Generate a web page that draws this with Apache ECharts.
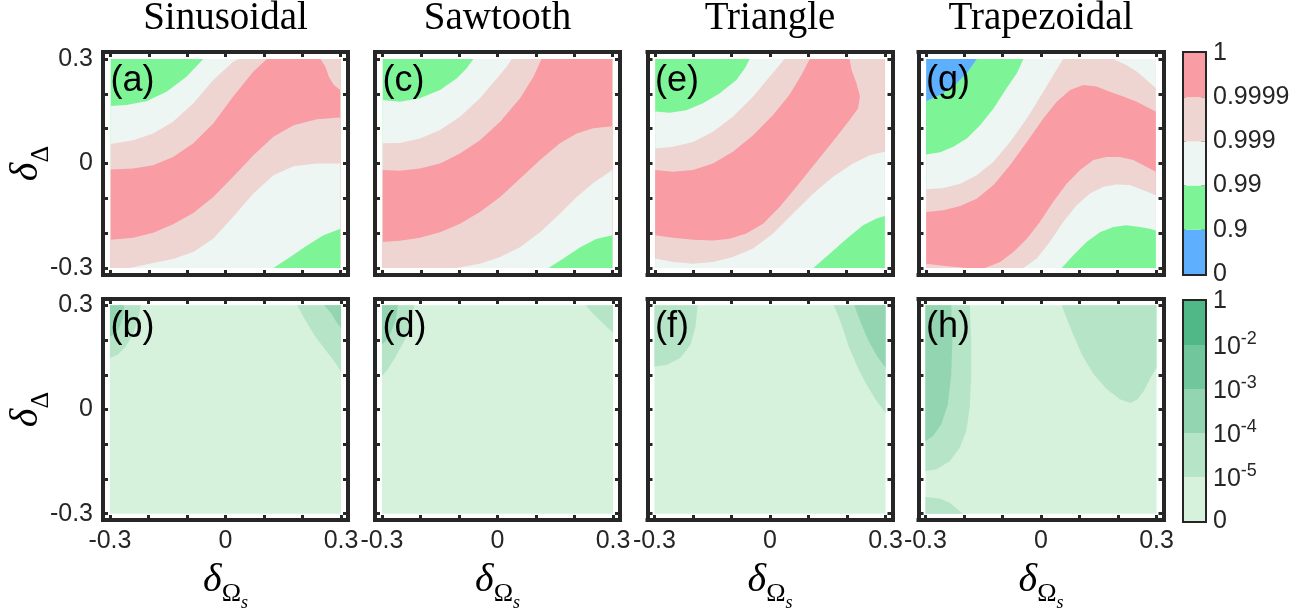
<!DOCTYPE html>
<html>
<head>
<meta charset="utf-8">
<script src="https://cdn.jsdelivr.net/npm/echarts@6/dist/echarts.min.js"></script>
<style>html,body{margin:0;padding:0;background:#fff;}#main{width:1314px;height:613px;}</style>
</head>
<body>
<div id="main"></div>
<script>
// ---------- axis ticks & labels ----------
const tickVals = [-0.3, -0.2, -0.1, 0, 0.1, 0.2, 0.3];
const tickLabelVals = [-0.3, 0, 0.3];
const tickLabelText = ['-0.3', '0', '0.3'];
const titles = ['Sinusoidal', 'Sawtooth', 'Triangle', 'Trapezoidal'];
const panelTags = ['(a)', '(c)', '(e)', '(g)', '(b)', '(d)', '(f)', '(h)'];

// ---------- colour levels ----------
const topLevelLabels = ['0', '0.9', '0.99', '0.999', '0.9999', '1'];
const topColors = ['#5EAFFE', '#7DF597', '#EEF6F4', '#EFD5D2', '#F99CA4'];
const botLevelBase = ['0', '10', '10', '10', '10', '1'];
const botLevelExp = ['', '-5', '-4', '-3', '-2', ''];
const botColors = ['#D6F2DD', '#B6E4C7', '#94D5B1', '#72C69B', '#50B787'];
const cbLevels = [0, 1, 2, 3, 4];

// ---------- contour boundaries (x, y) ----------
// (a) Sinusoidal
const a_c1 = [[-0.300,0.165],[-0.259,0.168],[-0.207,0.179],[-0.154,0.206],[-0.102,0.249],[-0.058,0.300]];
const a_c2 = [[-0.300,0.056],[-0.241,0.067],[-0.189,0.086],[-0.137,0.120],[-0.084,0.173],[-0.032,0.240],[0.020,0.292],[0.034,0.300]];
const a_c3 = [[-0.300,-0.017],[-0.241,-0.014],[-0.189,-0.005],[-0.137,0.019],[-0.084,0.058],[-0.032,0.115],[0.020,0.192],[0.073,0.264],[0.108,0.300]];
const a_cr = [[0.300,0.211],[0.283,0.225],[0.270,0.249],[0.261,0.278],[0.248,0.300]];
const a_c4 = [[-0.300,-0.219],[-0.241,-0.213],[-0.189,-0.199],[-0.137,-0.174],[-0.084,-0.142],[-0.032,-0.096],[0.020,-0.038],[0.073,0.024],[0.125,0.077],[0.178,0.110],[0.239,0.127],[0.300,0.132]];
const a_c5 = [[-0.250,-0.300],[-0.198,-0.288],[-0.137,-0.274],[-0.084,-0.254],[-0.032,-0.216],[0.020,-0.153],[0.073,-0.086],[0.125,-0.034],[0.178,-0.008],[0.239,0.000],[0.300,0.000]];
const a_c6 = [[0.125,-0.300],[0.169,-0.268],[0.213,-0.235],[0.256,-0.206],[0.300,-0.187]];
// (c) Sawtooth
const c_c1 = [[-0.300,0.182],[-0.255,0.177],[-0.203,0.187],[-0.150,0.211],[-0.107,0.244],[-0.081,0.273],[-0.063,0.300]];
const c_c2 = [[-0.300,0.058],[-0.255,0.059],[-0.203,0.072],[-0.150,0.096],[-0.098,0.134],[-0.046,0.187],[-0.002,0.244],[0.024,0.278],[0.037,0.300]];
const c_c3 = [[-0.300,-0.019],[-0.255,-0.021],[-0.203,-0.014],[-0.150,0.000],[-0.098,0.029],[-0.046,0.067],[0.007,0.120],[0.059,0.187],[0.094,0.249],[0.115,0.300]];
const c_c4 = [[-0.300,-0.225],[-0.255,-0.222],[-0.203,-0.213],[-0.150,-0.197],[-0.098,-0.173],[-0.046,-0.139],[0.007,-0.096],[0.059,-0.043],[0.111,0.010],[0.163,0.058],[0.207,0.086],[0.250,0.101],[0.300,0.107]];
const c_c5 = [[-0.107,-0.300],[-0.046,-0.288],[0.007,-0.268],[0.059,-0.240],[0.111,-0.197],[0.163,-0.144],[0.207,-0.096],[0.250,-0.056],[0.300,-0.019]];
const c_c6 = [[0.133,-0.300],[0.172,-0.273],[0.216,-0.240],[0.259,-0.216],[0.300,-0.206]];
// (e) Triangle
const e_c1 = [[-0.300,0.149],[-0.262,0.146],[-0.219,0.153],[-0.175,0.173],[-0.132,0.201],[-0.088,0.240],[-0.066,0.273],[-0.053,0.300]];
const e_c2 = [[-0.300,0.043],[-0.254,0.048],[-0.201,0.062],[-0.149,0.091],[-0.097,0.134],[-0.044,0.192],[-0.001,0.249],[0.025,0.283],[0.038,0.300]];
const e_c3 = [[-0.300,-0.019],[-0.254,-0.024],[-0.201,-0.019],[-0.149,0.000],[-0.097,0.034],[-0.044,0.081],[0.008,0.139],[0.051,0.197],[0.082,0.254],[0.104,0.300]];
const e_c4 = [[-0.300,-0.206],[-0.254,-0.213],[-0.201,-0.219],[-0.149,-0.221],[-0.106,-0.216],[-0.062,-0.201],[-0.018,-0.173],[0.025,-0.125],[0.069,-0.067],[0.104,-0.019],[0.139,0.029],[0.174,0.077],[0.208,0.125],[0.230,0.158],[0.235,0.192],[0.226,0.230],[0.213,0.268],[0.208,0.300]];
const e_c5 = [[-0.300,-0.273],[-0.254,-0.283],[-0.201,-0.288],[-0.149,-0.283],[-0.097,-0.268],[-0.044,-0.244],[0.008,-0.201],[0.060,-0.144],[0.113,-0.086],[0.165,-0.038],[0.217,0.000],[0.261,0.024],[0.300,0.034]];
const e_c6 = [[0.113,-0.300],[0.156,-0.259],[0.200,-0.216],[0.243,-0.177],[0.278,-0.158],[0.300,-0.151]];
// (g) Trapezoidal
const g_c0 = [[-0.300,0.179],[-0.263,0.197],[-0.229,0.221],[-0.194,0.259],[-0.168,0.300]];
const g_c1 = [[-0.300,0.026],[-0.263,0.032],[-0.229,0.048],[-0.194,0.072],[-0.159,0.110],[-0.124,0.158],[-0.090,0.216],[-0.063,0.259],[-0.046,0.300]];
const g_c2 = [[-0.300,-0.074],[-0.255,-0.070],[-0.211,-0.058],[-0.168,-0.034],[-0.124,0.005],[-0.081,0.062],[-0.037,0.129],[0.006,0.206],[0.032,0.254],[0.058,0.300]];
const g_cr = [[0.300,0.216],[0.276,0.240],[0.250,0.264],[0.223,0.283],[0.189,0.300]];
const g_c3 = [[-0.300,-0.139],[-0.255,-0.134],[-0.211,-0.122],[-0.168,-0.101],[-0.124,-0.062],[-0.081,-0.005],[-0.037,0.062],[0.006,0.129],[0.041,0.177],[0.076,0.211],[0.110,0.225],[0.145,0.221],[0.180,0.206],[0.215,0.192],[0.250,0.177],[0.284,0.158],[0.300,0.149]];
const g_c4 = [[-0.146,-0.300],[-0.107,-0.283],[-0.072,-0.254],[-0.037,-0.216],[-0.003,-0.168],[0.032,-0.110],[0.067,-0.058],[0.102,-0.019],[0.137,0.010],[0.171,0.019],[0.206,0.019],[0.241,0.010],[0.276,-0.010],[0.300,-0.024]];
const g_sl = [[-0.300,-0.288],[-0.250,-0.294],[-0.194,-0.300]];
const g_c5 = [[-0.046,-0.300],[-0.011,-0.273],[0.023,-0.225],[0.058,-0.168],[0.093,-0.120],[0.128,-0.086],[0.163,-0.067],[0.197,-0.060],[0.232,-0.062],[0.267,-0.077],[0.300,-0.091]];
const g_c6 = [[0.054,-0.300],[0.084,-0.264],[0.119,-0.225],[0.154,-0.197],[0.189,-0.182],[0.223,-0.177],[0.258,-0.182],[0.284,-0.187],[0.300,-0.192]];
// (b)
const b_tr1 = [[0.300,0.109],[0.283,0.138],[0.256,0.176],[0.230,0.215],[0.204,0.263],[0.186,0.300]];
const b_tr2 = [[0.300,0.234],[0.287,0.253],[0.274,0.277],[0.256,0.300]];
const b_tl1 = [[-0.220,0.300],[-0.228,0.253],[-0.241,0.215],[-0.259,0.181],[-0.281,0.157],[-0.300,0.148]];
const b_tl2 = [[-0.263,0.300],[-0.266,0.263],[-0.276,0.234],[-0.290,0.215],[-0.300,0.210]];
// (d)
const d_tl1 = [[-0.216,0.300],[-0.224,0.249],[-0.242,0.197],[-0.264,0.153],[-0.285,0.115],[-0.300,0.096]];
const d_tl2 = [[-0.259,0.300],[-0.264,0.259],[-0.277,0.221],[-0.290,0.197],[-0.300,0.187]];
const d_tr1 = [[0.300,0.221],[0.281,0.240],[0.259,0.264],[0.242,0.283],[0.229,0.300]];
// (f)
const f_tl1 = [[-0.188,0.300],[-0.193,0.240],[-0.206,0.187],[-0.232,0.149],[-0.267,0.129],[-0.300,0.123]];
const f_tr1 = [[0.300,-0.010],[0.274,0.029],[0.248,0.077],[0.226,0.125],[0.204,0.182],[0.187,0.240],[0.174,0.278],[0.165,0.300]];
const f_tr2 = [[0.300,0.120],[0.278,0.153],[0.256,0.197],[0.239,0.240],[0.226,0.278],[0.219,0.300]];
// (h)
const h_l1 = [[-0.185,0.300],[-0.181,0.197],[-0.181,0.101],[-0.185,0.005],[-0.194,-0.062],[-0.211,-0.110],[-0.237,-0.149],[-0.272,-0.173],[-0.300,-0.177]];
const h_l2 = [[-0.233,0.300],[-0.230,0.197],[-0.233,0.101],[-0.242,0.014],[-0.259,-0.043],[-0.281,-0.077],[-0.300,-0.091]];
const h_bl = [[-0.300,-0.252],[-0.263,-0.256],[-0.237,-0.268],[-0.216,-0.288],[-0.203,-0.300]];
const h_u = [[0.300,0.120],[0.284,0.091],[0.267,0.053],[0.250,0.029],[0.232,0.019],[0.206,0.029],[0.171,0.058],[0.137,0.101],[0.106,0.158],[0.080,0.225],[0.063,0.273],[0.054,0.300]];

// layer lists: [colour level, boundary] painted in order over a base level
const layersA = [[2,a_c1],[3,a_c2],[4,a_c3],[3,a_cr],[3,a_c4],[2,a_c5],[1,a_c6]];
const layersC = [[2,c_c1],[3,c_c2],[4,c_c3],[3,c_c4],[2,c_c5],[1,c_c6]];
const layersE = [[2,e_c1],[3,e_c2],[4,e_c3],[3,e_c4],[2,e_c5],[1,e_c6]];
const layersG = [[1,g_c0],[2,g_c1],[3,g_c2],[2,g_cr],[4,g_c3],[3,g_c4],[3,g_sl],[2,g_c5],[1,g_c6]];
const layersB = [[1,b_tr1],[2,b_tr2],[1,b_tl1],[2,b_tl2]];
const layersD = [[1,d_tl1],[2,d_tl2],[1,d_tr1]];
const layersF = [[1,f_tl1],[1,f_tr1],[2,f_tr2]];
const layersH = [[1,h_l1],[2,h_l2],[1,h_bl],[1,h_u]];
const panelLayers = [layersA, layersC, layersE, layersG, layersB, layersD, layersF, layersH];
const panelBase = [1, 1, 1, 0, 0, 0, 0, 0];

// ---------- layout ----------
const FR = '#262626';
const colCenters = [225.5, 497.5, 770, 1041];
const rowTop = [52, 299];
const rowH = [223, 221];
const rowLim = [0.32, 0.318];
const GW = 245;
const B = 0.3;
const LBL = 25;

function perim(p) {
  const x = p[0], y = p[1];
  const d = [Math.abs(y - B), Math.abs(x - B), Math.abs(y + B), Math.abs(x + B)];
  const m = Math.min.apply(null, d);
  if (m === d[0]) return (x + B) / (2 * B);
  if (m === d[1]) return 1 + (B - y) / (2 * B);
  if (m === d[2]) return 2 + (B - x) / (2 * B);
  return 3 + (y + B) / (2 * B);
}
const corners = [[-B, B], [B, B], [B, -B], [-B, -B]];
function region(curve) {
  const pts = curve.slice();
  const pe = perim(curve[curve.length - 1]);
  let ps = perim(curve[0]);
  if (ps <= pe) ps += 4;
  for (let k = Math.ceil(pe); k < ps; k++) { if (k > pe) pts.push(corners[k % 4]); }
  return pts;
}

function fmtTick(v) {
  for (let i = 0; i < tickLabelVals.length; i++) if (Math.abs(v - tickLabelVals[i]) < 1e-6) return tickLabelText[i];
  return '';
}

const grids = [], xAxes = [], yAxes = [], series = [];
function frameAxis(common, extra) { return Object.assign({}, common, extra); }

for (let p = 0; p < 8; p++) {
  const row = p < 4 ? 0 : 1, col = p % 4;
  const L = rowLim[row];
  grids.push({ left: colCenters[col] - GW / 2, top: rowTop[row], width: GW, height: rowH[row] });
  const base = {
    type: 'value', gridIndex: p, min: -L, max: L,
    axisLine: { show: true, onZero: false, lineStyle: { color: FR, width: 4, cap: 'square' } },
    axisTick: { show: true, inside: true, length: 5, customValues: tickVals, lineStyle: { color: FR, width: 3 } },
    splitLine: { show: false }
  };
  const lbl = { customValues: tickLabelVals, formatter: fmtTick, fontSize: LBL, color: FR, fontFamily: 'Liberation Sans' };
  xAxes.push(frameAxis(base, { position: 'bottom', axisLabel: Object.assign({ show: row === 1, margin: 9 }, lbl) }));
  xAxes.push(frameAxis(base, { position: 'top', axisLabel: { show: false } }));
  yAxes.push(frameAxis(base, { position: 'left', axisLabel: Object.assign({ show: col === 0, margin: 10 }, lbl) }));
  yAxes.push(frameAxis(base, { position: 'right', axisLabel: { show: false } }));
  const palette = row === 0 ? topColors : botColors;
  const layers = panelLayers[p];
  const baseLevel = panelBase[p];
  series.push({
    type: 'custom', xAxisIndex: 2 * p, yAxisIndex: 2 * p, silent: true,
    data: [[0, 0]],
    renderItem: function (params, api) {
      const children = [{ type: 'polygon', shape: { points: corners.map(c => api.coord(c)) }, style: { fill: palette[baseLevel] } }];
      layers.forEach(function (ly) {
        children.push({ type: 'polygon', shape: { points: region(ly[1]).map(c => api.coord(c)) }, style: { fill: palette[ly[0]] } });
      });
      return { type: 'group', children: children };
    }
  });
}

// colourbars
const cbTop = [53, 301], cbH = [221, 220];
for (let k = 0; k < 2; k++) {
  const g = 8 + k;
  grids.push({ left: 1184, top: cbTop[k], width: 21, height: cbH[k] });
  const line = { show: true, onZero: false, lineStyle: { color: FR, width: 4, cap: 'square' } };
  xAxes.push({ type: 'value', gridIndex: g, min: 0, max: 1, position: 'bottom', axisLine: line, axisTick: { show: false }, axisLabel: { show: false }, splitLine: { show: false } });
  xAxes.push({ type: 'value', gridIndex: g, min: 0, max: 1, position: 'top', axisLine: line, axisTick: { show: false }, axisLabel: { show: false }, splitLine: { show: false } });
  yAxes.push({ type: 'value', gridIndex: g, min: 0, max: 5, interval: 1, position: 'left', axisLine: line, axisTick: { show: false }, axisLabel: { show: false }, splitLine: { show: false } });
  yAxes.push({
    type: 'value', gridIndex: g, min: 0, max: 5, interval: 1, position: 'right', axisLine: line,
    axisTick: { show: true, inside: true, length: 4, lineStyle: { color: FR, width: 3 } },
    splitLine: { show: false },
    axisLabel: {
      show: true, margin: 8, fontSize: LBL, color: FR, fontFamily: 'Liberation Sans',
      formatter: k === 0 ? function (v) { return topLevelLabels[v]; } : function (v) {
        return botLevelExp[v] ? '{n|' + botLevelBase[v] + '}{e|' + botLevelExp[v] + '}' : '{n|' + botLevelBase[v] + '}';
      },
      rich: {
        n: { fontSize: LBL, color: FR, fontFamily: 'Liberation Sans', verticalAlign: 'bottom' },
        e: { fontSize: 18, color: FR, fontFamily: 'Liberation Sans', verticalAlign: 'bottom', padding: [0, 0, 12, 0] }
      }
    }
  });
  const palette = k === 0 ? topColors : botColors;
  series.push({
    type: 'custom', xAxisIndex: 2 * g, yAxisIndex: 2 * g, silent: true,
    data: cbLevels.map(i => [0.5, i + 0.5]),
    renderItem: function (params, api) {
      const i = cbLevels[params.dataIndex];
      const p0 = api.coord([0, i]), p1 = api.coord([1, i + 1]);
      return { type: 'rect', shape: { x: p0[0], y: p1[1], width: p1[0] - p0[0], height: p0[1] - p1[1] }, style: { fill: palette[i] } };
    }
  });
}

// texts
const graphics = [];
titles.forEach(function (t, c) {
  graphics.push({ type: 'text', x: colCenters[c], y: 19, style: { text: t, fontSize: 39, fontFamily: 'Liberation Serif', fill: '#000', align: 'center', verticalAlign: 'middle' } });
});
panelTags.forEach(function (t, p) {
  const row = p < 4 ? 0 : 1, col = p % 4;
  graphics.push({ type: 'text', x: colCenters[col] - 115, y: row === 0 ? 81 : 327, z: 10, style: { text: t, fontSize: 36, fontFamily: 'Liberation Sans', fill: '#000', align: 'left', verticalAlign: 'middle' } });
});
const yNameRich = {
  d: { fontSize: 40, fontFamily: 'Liberation Serif', fontStyle: 'italic', fill: '#000', verticalAlign: 'bottom', padding: [0, 0, 8, 0] },
  s: { fontSize: 26, fontFamily: 'Liberation Serif', fill: '#000', verticalAlign: 'bottom' }
};
[163.5, 409.5].forEach(function (yc) {
  graphics.push({ type: 'text', x: 30, y: yc, rotation: Math.PI / 2, style: { text: '{d|δ}{s|Δ}', rich: yNameRich, align: 'center', verticalAlign: 'middle' } });
});
const xNameRich = {
  d: { fontSize: 40, fontFamily: 'Liberation Serif', fontStyle: 'italic', fill: '#000', verticalAlign: 'bottom', padding: [0, 0, 12, 0] },
  s: { fontSize: 26, fontFamily: 'Liberation Serif', fill: '#000', verticalAlign: 'bottom', padding: [0, 0, 5, 0] },
  t: { fontSize: 18, fontFamily: 'Liberation Serif', fontStyle: 'italic', fill: '#000', verticalAlign: 'bottom' }
};
colCenters.forEach(function (xc) {
  graphics.push({ type: 'text', x: xc, y: 586, style: { text: '{d|δ}{s|Ω}{t|s}', rich: xNameRich, align: 'center', verticalAlign: 'middle' } });
});

const chart = echarts.init(document.getElementById('main'), null, { renderer: 'canvas' });
chart.setOption({
  animation: false,
  backgroundColor: '#fff',
  textStyle: { fontFamily: 'Liberation Sans' },
  grid: grids, xAxis: xAxes, yAxis: yAxes, series: series, graphic: graphics
});
</script>
</body>
</html>
